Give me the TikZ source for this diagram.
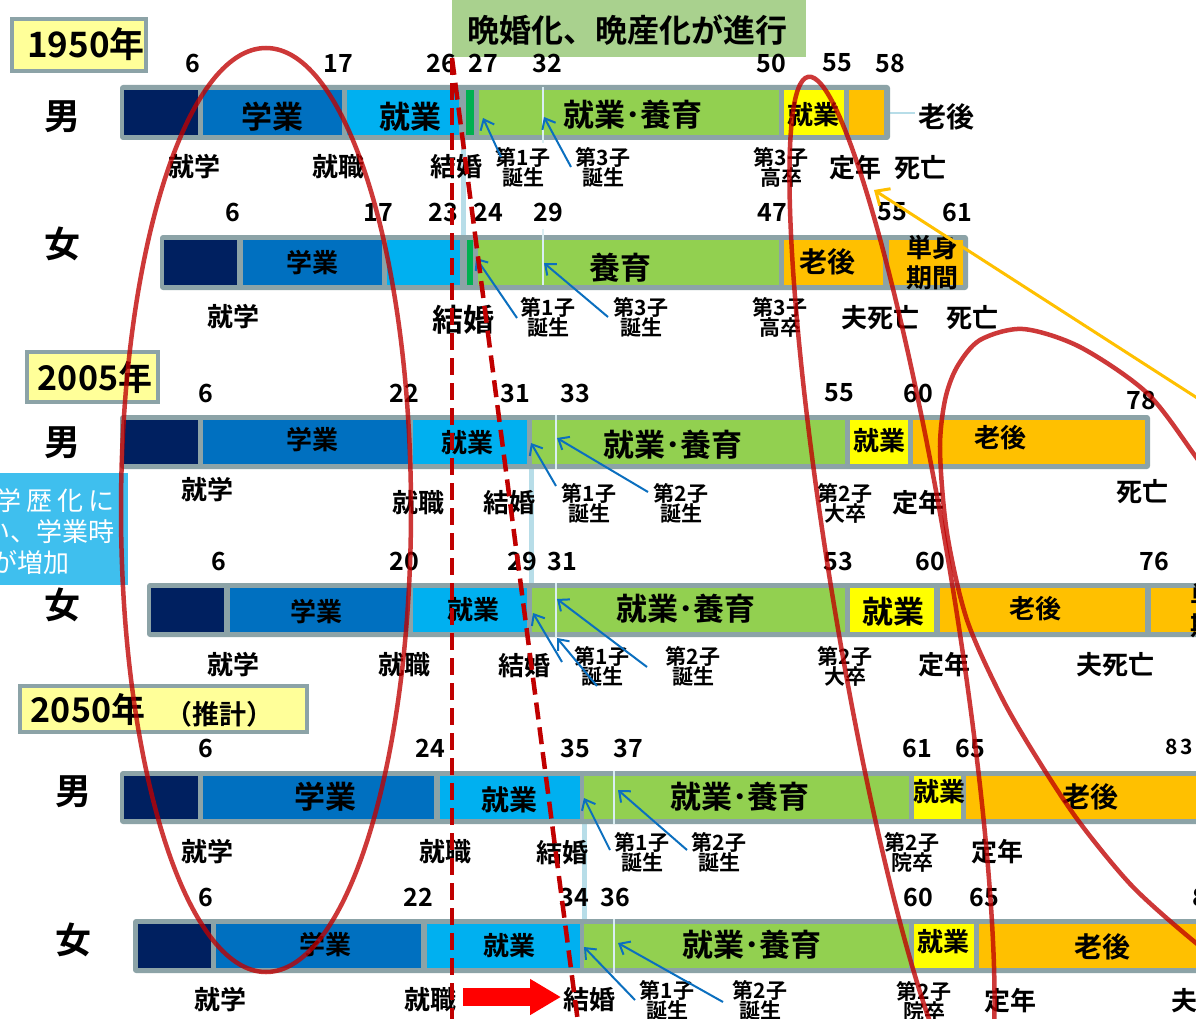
\documentclass[tikz,border=0pt]{standalone}
\usepackage{fontspec}
\setmainfont{Noto Sans CJK JP}[BoldFont={Noto Sans CJK JP Bold}]
\usetikzlibrary{arrows.meta}
\definecolor{navy}{HTML}{002060}
\definecolor{mblue}{HTML}{0070C0}
\definecolor{lblue}{HTML}{00B0F0}
\definecolor{dgreen}{HTML}{00B050}
\definecolor{lgreen}{HTML}{92D050}
\definecolor{yel}{HTML}{FFFF00}
\definecolor{orng}{HTML}{FFC000}
\definecolor{frame}{HTML}{8CA3A7}
\definecolor{ybox}{HTML}{FFFF99}
\definecolor{tgreen}{HTML}{A9D18E}
\definecolor{infob}{HTML}{3FBFEE}
\definecolor{arrblue}{HTML}{0B6FBF}
\definecolor{conn}{HTML}{B7DDE8}
\definecolor{wline}{HTML}{DAEEF3}
\definecolor{dred}{HTML}{C00000}
\definecolor{bred}{HTML}{FF0000}
\tikzset{
 num/.style={font=\bfseries\fontsize{25}{25}\selectfont, inner sep=0pt},
 lab/.style={font=\bfseries\fontsize{26}{26}\selectfont, inner sep=0pt},
 labb/.style={font=\bfseries\fontsize{31}{31}\selectfont, inner sep=0pt},
 labm/.style={font=\bfseries\fontsize{28}{28}\selectfont, inner sep=0pt},
 two/.style={font=\bfseries\fontsize{21}{20}\selectfont, align=center, inner sep=0pt},
 sexlab/.style={font=\bfseries\fontsize{36}{36}\selectfont, inner sep=0pt},
 yearbox/.style={fill=ybox, draw=frame, line width=4pt},
 yeartxt/.style={font=\bfseries\fontsize{35}{35}\selectfont, inner sep=0pt},
 frm/.style={fill=frame, rounded corners=3pt},
 barrow/.style={draw=arrblue, line width=2pt, -{Straight Barb[length=9pt,width=15pt]}},
 connline/.style={draw=conn, line width=5pt},
 wl/.style={draw=wline, line width=1.3pt},
 ell/.style={draw=dred, line width=4.5pt, draw opacity=0.78},
 dsh/.style={draw=dred, line width=4.5pt, dash pattern=on 17pt off 8pt},
 yarrow/.style={draw=orng, line width=3pt, -{Straight Barb[length=11pt,width=20pt]}},
 blockarrow/.style={draw=bred, line width=18pt, -{Triangle[length=31pt,width=34pt]}},
 infotxt/.style={font=\fontsize{26}{26}\selectfont, text=white, inner sep=0pt},
}
\begin{document}
\begin{tikzpicture}[x=1pt,y=-1pt]
\clip (0,0) rectangle (1196,1019);
\fill[white] (0,0) rectangle (1196,1019);

% title
\fill[tgreen] (452,0) rectangle (806,57);
\node[font=\bfseries\fontsize{32}{32}\selectfont, inner sep=0pt] (title) at (627,30) {晩婚化、晩産化が進行};

% year boxes
\draw[yearbox] (12,19) rectangle (146,71);
\node[yeartxt] (y1950) at (86,44) {1950年};
\draw[yearbox] (27,352) rectangle (158,402);
\node[yeartxt, font=\bfseries\fontsize{34}{34}\selectfont] (y2005) at (95,378) {2005年};
\draw[yearbox] (20,686) rectangle (307,732);
\node[yeartxt, font=\bfseries\fontsize{34}{34}\selectfont] (y2050) at (88,710) {2050年};
\node[font=\bfseries\fontsize{27}{27}\selectfont, inner sep=0pt] (suikei) at (219,714) {（推計）};

% info box
\fill[infob] (0,473) rectangle (128,585);
\node[infotxt, anchor=east] (inf1) at (115,501) {学\hspace{5pt}歴\hspace{5pt}化\hspace{5pt}に};
\node[infotxt, anchor=east] (inf2) at (115,532) {い、学業時};
\node[infotxt, anchor=east] (inf3) at (70,563) {が増加};

% connector lines between rows
\draw[connline] (463,140) -- (463,235);
\draw[connline] (531,469) -- (531,583);
\draw[connline] (584,824) -- (584,919);
\draw[draw=conn, line width=2pt] (889,113) -- (915,113);

% ===== 1950 male
\fill[frm] (120,85) rectangle (890,140);
\fill[navy] (124,90) rectangle (198,135);
\fill[mblue] (203,90) rectangle (342,135);
\fill[lblue] (347,90) rectangle (459,135);
\fill[dgreen] (466,90) rectangle (474,135);
\fill[lgreen] (479,90) rectangle (779,135);
\fill[yel] (784,90) rectangle (844,135);
\fill[orng] (849,90) rectangle (884,135);
\draw[wl] (543,87) -- (543,143);
% ===== 1950 female
\fill[frm] (160,235) rectangle (968,290);
\fill[navy] (164,240) rectangle (237,285);
\fill[mblue] (243,240) rectangle (382,285);
\fill[lblue] (387,240) rectangle (460,285);
\fill[dgreen] (467,240) rectangle (473,285);
\fill[lgreen] (478,240) rectangle (779,285);
\fill[orng] (784,240) rectangle (883,285);
\fill[orng] (889,240) rectangle (963,285);
\draw[wl] (543,229) -- (543,285);
% ===== 2005 male
\fill[frm] (120,415) rectangle (1150,469);
\fill[navy] (124,420) rectangle (198,464);
\fill[mblue] (203,420) rectangle (408,464);
\fill[lblue] (413,420) rectangle (527,464);
\fill[lgreen] (532,420) rectangle (845,464);
\fill[yel] (850,420) rectangle (908,464);
\fill[orng] (913,420) rectangle (1145,464);
\draw[wl] (556,415) -- (556,469);
% ===== 2005 female
\fill[frm] (147,583) rectangle (1210,637);
\fill[navy] (151,588) rectangle (224,632);
\fill[mblue] (230,588) rectangle (408,632);
\fill[lblue] (413,588) rectangle (527,632);
\fill[lgreen] (532,588) rectangle (845,632);
\fill[yel] (850,588) rectangle (934,632);
\fill[orng] (940,588) rectangle (1145,632);
\fill[orng] (1151,588) rectangle (1210,632);
\draw[wl] (556,583) -- (556,637);
% ===== 2050 male
\fill[frm] (120,771) rectangle (1210,824);
\fill[navy] (124,776) rectangle (198,819);
\fill[mblue] (203,776) rectangle (434,819);
\fill[lblue] (440,776) rectangle (580,819);
\fill[lgreen] (584,776) rectangle (909,819);
\fill[yel] (914,776) rectangle (961,819);
\fill[orng] (966,776) rectangle (1210,819);
\draw[wl] (614,771) -- (614,824);
% ===== 2050 female
\fill[frm] (133,919) rectangle (1210,973);
\fill[navy] (138,924) rectangle (211,968);
\fill[mblue] (216,924) rectangle (421,968);
\fill[lblue] (427,924) rectangle (580,968);
\fill[lgreen] (584,924) rectangle (909,968);
\fill[yel] (914,924) rectangle (974,968);
\fill[orng] (979,924) rectangle (1210,968);
\draw[wl] (614,919) -- (614,973);

% sex labels
\node[sexlab] (m1) at (62,117) {男};
\node[sexlab] (f1) at (62,244) {女};
\node[sexlab] (m2) at (62,443) {男};
\node[sexlab] (f2) at (62,605) {女};
\node[sexlab] (m3) at (73,792) {男};
\node[sexlab] (f3) at (73,940) {女};

% ===== numbers
\node[num] (a6) at (193,63) {6};
\node[num] (a17) at (338,63) {17};
\node[num] (a26) at (441,63) {26};
\node[num] (a27) at (483,63) {27};
\node[num] (a32) at (547,63) {32};
\node[num] (a50) at (771,63) {50};
\node[num] (a55) at (837,63) {55};
\node[num] (a58) at (890,63) {58};

\node[num] (b6) at (233,212) {6};
\node[num] (b17) at (378,212) {17};
\node[num] (b23) at (443,212) {23};
\node[num] (b24) at (488,212) {24};
\node[num] (b29) at (548,212) {29};
\node[num] (b47) at (772,212) {47};
\node[num] (b55) at (892,212) {55};
\node[num] (b61) at (957,212) {61};

\node[num] (c6) at (206,393) {6};
\node[num] (c22) at (404,393) {22};
\node[num] (c31) at (515,393) {31};
\node[num] (c33) at (575,393) {33};
\node[num] (c55) at (839,393) {55};
\node[num] (c60) at (918,393) {60};
\node[num] (c78) at (1141,400) {78};

\node[num] (d6) at (219,561) {6};
\node[num] (d20) at (404,561) {20};
\node[num] (d29) at (522,561) {29};
\node[num] (d31) at (562,561) {31};
\node[num] (d53) at (838,561) {53};
\node[num] (d60) at (930,561) {60};
\node[num] (d76) at (1154,561) {76};

\node[num] (e6) at (206,748) {6};
\node[num] (e24) at (430,748) {24};
\node[num] (e35) at (575,748) {35};
\node[num] (e37) at (628,748) {37};
\node[num] (e61) at (917,748) {61};
\node[num] (e65) at (970,748) {65};
\node[num, font=\bfseries\fontsize{21}{21}\selectfont] (e83) at (1179,747) {8\hspace{2pt}3};

\node[num] (f6) at (206,897) {6};
\node[num] (f22) at (418,897) {22};
\node[num] (f34) at (574,897) {34};
\node[num] (f36) at (615,897) {36};
\node[num] (f60) at (918,897) {60};
\node[num] (f65) at (984,897) {65};
\node[num, anchor=west] (f8x) at (1192,897) {8};

% ===== bar labels
\node[labb] (aS) at (272,117) {学業};
\node[labb] (aW) at (410,117) {就業};
\node[labb] (aWR) at (633,115) {就業･養育};
\node[lab] (aW2) at (813,115) {就業};
\node[labm] (aOld) at (946,117) {老後};

\node[lab] (bS) at (312,263) {学業};
\node[labb] (bR) at (620,268) {養育};
\node[labm] (bOld) at (827,262) {老後};
\node[lab, align=center, font=\bfseries\fontsize{26}{30}\selectfont] (bSingle) at (932,263) {単身\\期間};

\node[lab] (cS) at (312,440) {学業};
\node[lab] (cW) at (467,443) {就業};
\node[labb] (cWR) at (673,445) {就業･養育};
\node[lab] (cW2) at (879,441) {就業};
\node[lab] (cOld) at (1000,438) {老後};

\node[lab] (dS) at (316,612) {学業};
\node[lab] (dW) at (473,610) {就業};
\node[labb] (dWR) at (686,609) {就業･養育};
\node[labb] (dW2) at (893,612) {就業};
\node[lab] (dOld) at (1035,609) {老後};
\node[lab, align=center, font=\bfseries\fontsize{26}{30}\selectfont, anchor=west] (dSingle) at (1190,611) {単身\\期間};

\node[labb] (eS) at (325,797) {学業};
\node[labm] (eW) at (509,800) {就業};
\node[labb] (eWR) at (740,797) {就業･養育};
\node[lab] (eW2) at (939,792) {就業};
\node[labm] (eOld) at (1090,797) {老後};

\node[lab] (fS) at (325,945) {学業};
\node[lab] (fW) at (509,946) {就業};
\node[labb] (fWR) at (752,945) {就業･養育};
\node[lab] (fW2) at (943,942) {就業};
\node[labm] (fOld) at (1102,947) {老後};

% ===== below labels
\node[lab] (aL1) at (194,167) {就学};
\node[lab] (aL2) at (338,167) {就職};
\node[lab] (aL3) at (456,167) {結婚};
\node[two] (aL4) at (523,167) {第1子\\誕生};
\node[two] (aL5) at (603,167) {第3子\\誕生};
\node[two] (aL6) at (781,167) {第3子\\高卒};
\node[lab] (aL7) at (855,168) {定年};
\node[lab] (aL8) at (920,168) {死亡};

\node[lab] (bL1) at (233,317) {就学};
\node[labb] (bL3) at (463,320) {結婚};
\node[two] (bL4) at (548,317) {第1子\\誕生};
\node[two] (bL5) at (641,317) {第3子\\誕生};
\node[two] (bL6) at (780,317) {第3子\\高卒};
\node[lab] (bL7) at (880,318) {夫死亡};
\node[lab] (bL8) at (972,318) {死亡};

\node[lab] (cL1) at (207,490) {就学};
\node[lab] (cL2) at (418,503) {就職};
\node[lab] (cL3) at (509,503) {結婚};
\node[two] (cL4) at (589,503) {第1子\\誕生};
\node[two] (cL5) at (681,503) {第2子\\誕生};
\node[two] (cL6) at (845,503) {第2子\\大卒};
\node[lab] (cL7) at (918,503) {定年};
\node[lab] (cL8) at (1142,492) {死亡};

\node[lab] (dL1) at (233,665) {就学};
\node[lab] (dL2) at (404,665) {就職};
\node[lab] (dL3) at (524,666) {結婚};
\node[two] (dL4) at (602,666) {第1子\\誕生};
\node[two] (dL5) at (693,666) {第2子\\誕生};
\node[two] (dL6) at (845,666) {第2子\\大卒};
\node[lab] (dL7) at (944,665) {定年};
\node[lab] (dL8) at (1115,665) {夫死亡};

\node[lab] (eL1) at (207,852) {就学};
\node[lab] (eL2) at (445,852) {就職};
\node[lab] (eL3) at (562,853) {結婚};
\node[two] (eL4) at (642,852) {第1子\\誕生};
\node[two] (eL5) at (719,852) {第2子\\誕生};
\node[two] (eL6) at (912,852) {第2子\\院卒};
\node[lab] (eL7) at (997,852) {定年};

\node[lab] (fL1) at (220,1000) {就学};
\node[lab] (fL2) at (430,1000) {就職};
\node[lab] (fL3) at (589,1000) {結婚};
\node[two] (fL4) at (667,1000) {第1子\\誕生};
\node[two] (fL5) at (760,1000) {第2子\\誕生};
\node[two] (fL6) at (924,1001) {第2子\\院卒};
\node[lab] (fL7) at (1010,1001) {定年};
\node[lab, anchor=west] (fL8) at (1171,1001) {夫死亡};

% ===== blue arrows
\coordinate (aA1s) at (501,157); \coordinate (aA1e) at (483,118);
\coordinate (aA2s) at (571,167); \coordinate (aA2e) at (544,117);
\draw[barrow] (aA1s) -- (aA1e);
\draw[barrow] (aA2s) -- (aA2e);
\coordinate (bA1s) at (517,318); \coordinate (bA1e) at (476,258);
\coordinate (bA2s) at (608,317); \coordinate (bA2e) at (544,263);
\draw[barrow] (bA1s) -- (bA1e);
\draw[barrow] (bA2s) -- (bA2e);
\coordinate (cA1s) at (556,486); \coordinate (cA1e) at (531,443);
\coordinate (cA2s) at (648,492); \coordinate (cA2e) at (557,438);
\draw[barrow] (cA1s) -- (cA1e);
\draw[barrow] (cA2s) -- (cA2e);
\coordinate (dA1s) at (562,662); \coordinate (dA1e) at (533,613);
\coordinate (dA2s) at (597,686); \coordinate (dA2e) at (557,638);
\coordinate (dA3s) at (647,667); \coordinate (dA3e) at (557,599);
\draw[barrow] (dA1s) -- (dA1e);
\draw[barrow] (dA2s) -- (dA2e);
\draw[barrow] (dA3s) -- (dA3e);
\coordinate (eA1s) at (610,850); \coordinate (eA1e) at (584,798);
\coordinate (eA2s) at (687,850); \coordinate (eA2e) at (618,790);
\draw[barrow] (eA1s) -- (eA1e);
\draw[barrow] (eA2s) -- (eA2e);
\coordinate (fA1s) at (635,1000); \coordinate (fA1e) at (584,947);
\coordinate (fA2s) at (723,1002); \coordinate (fA2e) at (618,943);
\draw[barrow] (fA1s) -- (fA1e);
\draw[barrow] (fA2s) -- (fA2e);

% ===== red ellipses
\draw[ell] (266,510) ellipse [x radius=145, y radius=462];
\begin{scope}[shift={(892,588)}, rotate=9.3]
\draw[ell] (0,0) ellipse [x radius=60, y radius=518];
\end{scope}
\draw[ell] plot[smooth] coordinates {(1240,520) (1196,457) (1147,393) (1080,347) (1023,329) (980,340) (957,367) (945,400) (940,450) (947,533) (967,620) (1003,700) (1040,763) (1080,823) (1133,887) (1196,943) (1240,975)};

% ===== red dashed lines
\coordinate (dtop) at (452,58);
\coordinate (dbot1) at (452,1030);
\coordinate (dbot2) at (579,1030);
\draw[dsh] (dtop) -- (dbot1);
\draw[dsh] (dtop) -- (dbot2);

% ===== yellow arrow
\coordinate (ya) at (1205,403);
\coordinate (yb) at (874,190);
\draw[yarrow] (ya) -- (yb);

% ===== red block arrow
\coordinate (ra) at (463,997);
\coordinate (rb) at (561,997);
\draw[blockarrow] (ra) -- (rb);
\end{tikzpicture}
\end{document}
